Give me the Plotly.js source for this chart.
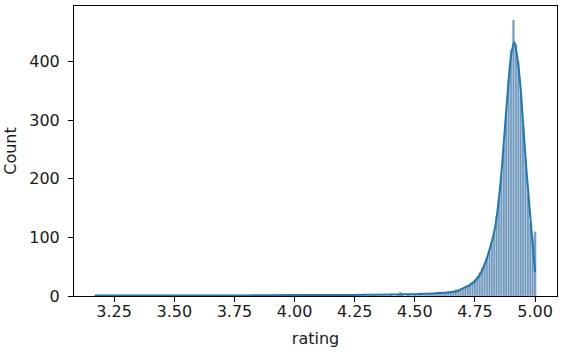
<!DOCTYPE html>
<html>
<head>
<meta charset="utf-8">
<script src="https://cdn.plot.ly/plotly-3.0.1.min.js"></script>
<style>html,body{margin:0;padding:0;background:#fff;}#chart{width:562px;height:353px;}</style>
</head>
<body>
<div id="chart"></div>
<script>
// Histogram bins (rating value of each bin, count in bin)
const binRatings = [3.17, 3.33, 3.50, 3.67, 3.75, 3.80, 4.00, 4.17, 4.20, 4.25, 4.29, 4.33, 4.36, 4.38, 4.40, 4.43, 4.44, 4.45, 4.47, 4.48,
  4.50, 4.51, 4.52, 4.53, 4.54, 4.55, 4.56, 4.57, 4.58, 4.59, 4.60, 4.61, 4.62, 4.63, 4.64, 4.65, 4.66, 4.67, 4.68, 4.69,
  4.70, 4.71, 4.72, 4.73, 4.74, 4.75, 4.76, 4.77, 4.78, 4.79, 4.80, 4.81, 4.82, 4.83, 4.84, 4.85, 4.86, 4.87, 4.88, 4.89,
  4.90, 4.91, 4.92, 4.93, 4.94, 4.95, 4.96, 4.97, 4.98, 4.99, 5.00];
const binCounts = [1, 1, 1, 1, 1, 1, 2, 1, 1, 1, 1, 2, 1, 1, 2, 2, 7, 3, 2, 2,
  2, 1, 2, 2, 3, 3, 3, 4, 4, 5, 6, 5, 6, 7, 8, 8, 9, 11, 11, 13,
  14, 16, 18, 21, 24, 28, 34, 40, 48, 57, 67, 78, 92, 108, 135, 165, 205, 255, 310, 370,
  420, 471, 430, 400, 345, 290, 235, 175, 125, 100, 110];

// KDE curve
const kdeX = [3.17, 3.40, 3.60, 3.80, 4.00, 4.20, 4.30, 4.40, 4.45, 4.50, 4.55, 4.60, 4.64, 4.675, 4.70, 4.73, 4.758, 4.78, 4.80, 4.82, 4.834, 4.85, 4.862, 4.875, 4.889, 4.90, 4.913, 4.925, 4.938, 4.95, 4.963, 4.975, 4.986, 5.00];
const kdeY = [1, 1, 1, 1, 1.5, 1.5, 2, 2.5, 3, 3, 4, 5, 6, 8, 13, 19, 29, 44, 65, 93, 118, 168, 220, 290, 363, 410, 434, 410, 363, 295, 220, 160, 107, 41];

const xTicks = [3.25, 3.50, 3.75, 4.00, 4.25, 4.50, 4.75, 5.00];
const yTicks = [0, 100, 200, 300, 400];

const font = {family: 'DejaVu Sans, sans-serif', size: 16, color: '#1a1a1a'};

const traces = [
  {type: 'bar', x: binRatings, y: binCounts, width: 0.0095,
   marker: {color: '#7098bd', line: {color: 'rgba(205,218,230,0.9)', width: 0.4}},
   hoverinfo: 'x+y', showlegend: false},
  {type: 'scatter', mode: 'lines', x: kdeX, y: kdeY,
   line: {color: '#1f77b4', width: 2, shape: 'spline', smoothing: 0.8},
   showlegend: false}
];

const layout = {
  width: 562, height: 353,
  margin: {l: 74, r: 5, t: 6, b: 57, pad: 0},
  paper_bgcolor: '#fff', plot_bgcolor: '#fff',
  font: font,
  bargap: 0,
  xaxis: {
    range: [3.083, 5.091], tickvals: xTicks, ticktext: xTicks.map(v => v.toFixed(2)),
    ticks: 'outside', ticklen: 5, tickwidth: 1, tickcolor: '#000',
    ticklabelstandoff: -4,
    showline: true, linecolor: '#000', linewidth: 1, mirror: true,
    showgrid: false, zeroline: false,
    tickfont: font,
    title: {text: 'rating', font: font, standoff: 12}
  },
  yaxis: {
    range: [0, 495], tickvals: yTicks,
    ticks: 'outside', ticklen: 5, tickwidth: 1, tickcolor: '#000',
    ticklabelstandoff: 5,
    showline: true, linecolor: '#000', linewidth: 1, mirror: true,
    showgrid: false, zeroline: false,
    tickfont: font,
    title: {text: 'Count', font: font, standoff: 8}
  }
};

Plotly.newPlot('chart', traces, layout, {displayModeBar: false, staticPlot: true});
</script>
</body>
</html>
